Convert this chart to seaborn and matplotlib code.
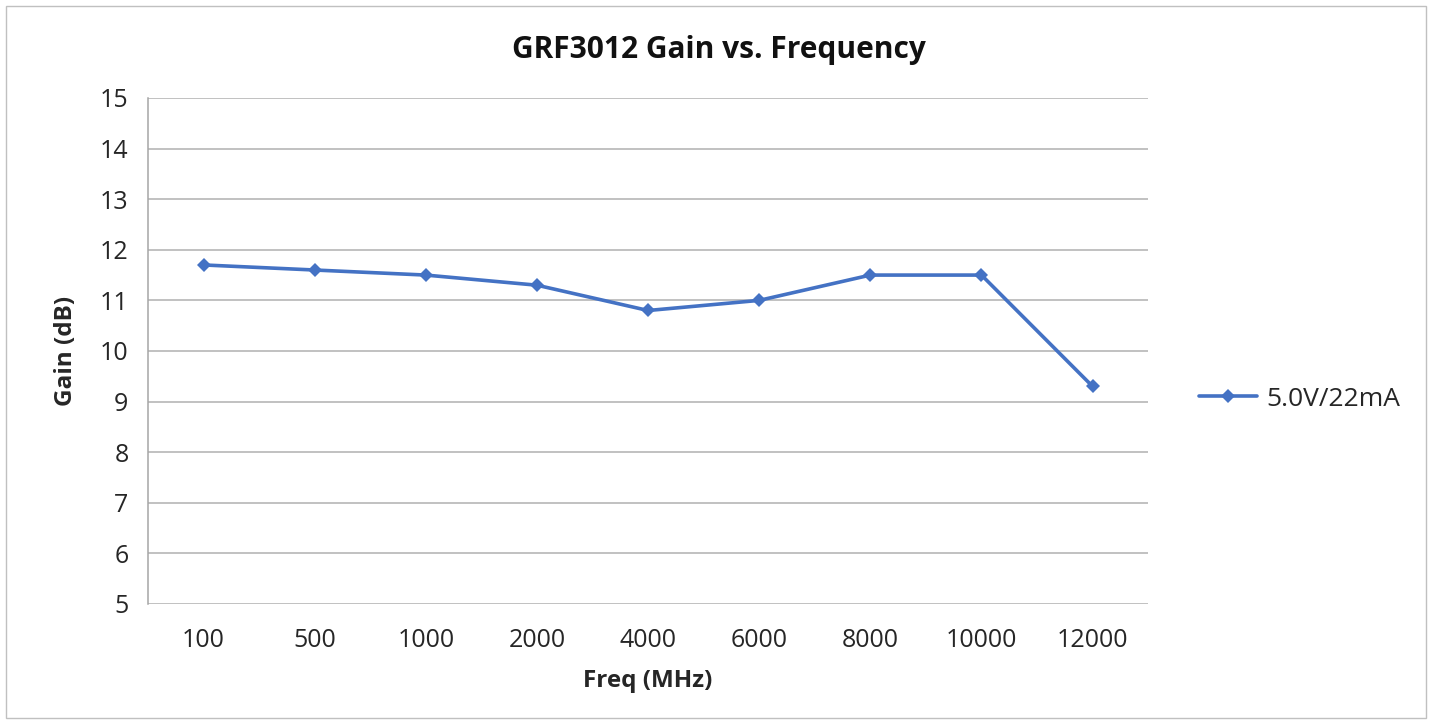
import matplotlib
matplotlib.use("Agg")
import matplotlib.pyplot as plt
import seaborn as sns
import pandas as pd
from matplotlib.patches import Rectangle

freqs = ["100", "500", "1000", "2000", "4000", "6000", "8000", "10000", "12000"]
gain = [11.7, 11.6, 11.5, 11.3, 10.8, 11.0, 11.5, 11.5, 9.3]
series_name = "5.0V/22mA"

sns.set_style("white")
plt.rcParams['font.family'] = ['Open Sans', 'DejaVu Sans']

df = pd.DataFrame({"Freq": freqs, "Gain": gain, "Series": series_name})

fig = plt.figure(figsize=(14.37, 7.23), dpi=100)
ax = fig.add_axes([0.103, 0.1646, 0.696, 0.6999])

sns.lineplot(data=df, x="Freq", y="Gain", hue="Series", palette=["#4472C4"],
             marker="D", markersize=7, linewidth=2.6, markeredgewidth=0,
             sort=False, ax=ax)

ax.set_ylim(5, 15)
ax.set_xlim(-0.5, len(freqs) - 0.5)
ax.set_yticks(range(5, 16))
ax.yaxis.grid(True, color="#b0b0b0", linewidth=1.1)
ax.xaxis.grid(False)
for s in ["top", "right", "bottom"]:
    ax.spines[s].set_visible(False)
ax.spines["left"].set_color("#a6a6a6")
ax.spines["left"].set_linewidth(1.1)
ax.tick_params(axis="y", length=8, width=1.1, color="#a6a6a6", direction="out",
               labelsize=18, labelcolor="#262626", pad=6)
ax.tick_params(axis="x", length=0, labelsize=18, labelcolor="#262626", pad=17)

ax.set_xlabel("Freq (MHz)", fontsize=17.5, fontweight="bold", color="#262626", labelpad=12)
ax.set_ylabel("Gain (dB)", fontsize=17.5, fontweight="bold", color="#262626", labelpad=16)
fig.suptitle("GRF3012 Gain vs. Frequency", fontsize=21.5, fontweight="bold",
             color="#111111", y=0.952)

leg = ax.legend(loc="center left", bbox_to_anchor=(1.027, 0.405), frameon=False,
                fontsize=19, handlelength=2.2, handletextpad=0.35)
for t in leg.get_texts():
    t.set_color("#262626")

fig.patches.append(Rectangle((0.004, 0.007), 0.988, 0.985, transform=fig.transFigure,
                             fill=False, edgecolor="#c0c0c0", linewidth=1.0))

fig.savefig("out.png", dpi=100)
